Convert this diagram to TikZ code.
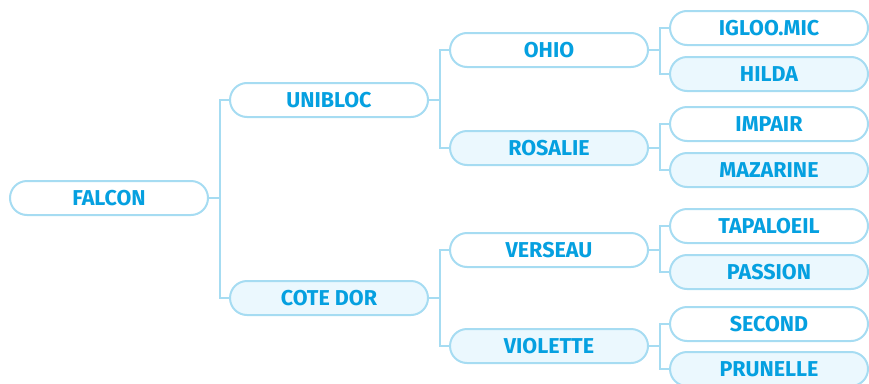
\documentclass[tikz,border=0pt]{standalone}
\usepackage{fontspec}
\setmainfont{Fira Sans}
\usepackage{tikz}

\definecolor{linecol}{HTML}{A6DCF2}
\definecolor{textcol}{HTML}{05A0E0}
\definecolor{softfill}{HTML}{EBF8FE}

\tikzset{
  pill/.style={draw=linecol, line width=2pt, fill=white, rounded corners=17pt,
    minimum width=198pt, minimum height=34pt, inner sep=0pt,
    text=textcol, font=\fontsize{21.5}{21.5}\selectfont\bfseries},
  pillsoft/.style={pill, fill=softfill},
  link/.style={draw=linecol, line width=2pt}
}

\begin{document}
\begin{tikzpicture}[x=1pt,y=-1pt]
		\useasboundingbox (0,0) rectangle (869,383);
		\node[pill] (falcon) at (109,198) {FALCON};
		\node[pill] (unibloc) at (329,100) {UNIBLOC};
		\node[pillsoft] (cotedor) at (329,298) {COTE DOR};
		\node[pill] (ohio) at (549,50) {OHIO};
		\node[pillsoft] (rosalie) at (549,148) {ROSALIE};
		\node[pill] (verseau) at (549,250) {VERSEAU};
		\node[pillsoft] (violette) at (549,346) {VIOLETTE};
		\node[pill] (igloo) at (769,28) {IGLOO.MIC};
		\node[pillsoft] (hilda) at (769,74) {HILDA};
		\node[pill] (impair) at (769,124) {IMPAIR};
		\node[pillsoft] (mazarine) at (769,170) {MAZARINE};
		\node[pill] (tapaloeil) at (769,226) {TAPALOEIL};
		\node[pillsoft] (passion) at (769,272) {PASSION};
		\node[pill] (second) at (769,324) {SECOND};
		\node[pillsoft] (prunelle) at (769,369) {PRUNELLE};

		% branches
		\draw[link] (falcon.east) -- ++(11,0) |- (unibloc.west);
		\draw[link] (falcon.east) -- ++(11,0) |- (cotedor.west);
		\draw[link] (unibloc.east) -- ++(11,0) |- (ohio.west);
		\draw[link] (unibloc.east) -- ++(11,0) |- (rosalie.west);
		\draw[link] (cotedor.east) -- ++(11,0) |- (verseau.west);
		\draw[link] (cotedor.east) -- ++(11,0) |- (violette.west);
		\draw[link] (ohio.east) -- ++(11,0) |- (igloo.west);
		\draw[link] (ohio.east) -- ++(11,0) |- (hilda.west);
		\draw[link] (rosalie.east) -- ++(11,0) |- (impair.west);
		\draw[link] (rosalie.east) -- ++(11,0) |- (mazarine.west);
		\draw[link] (verseau.east) -- ++(11,0) |- (tapaloeil.west);
		\draw[link] (verseau.east) -- ++(11,0) |- (passion.west);
		\draw[link] (violette.east) -- ++(11,0) |- (second.west);
		\draw[link] (violette.east) -- ++(11,0) |- (prunelle.west);
\end{tikzpicture}
\end{document}
